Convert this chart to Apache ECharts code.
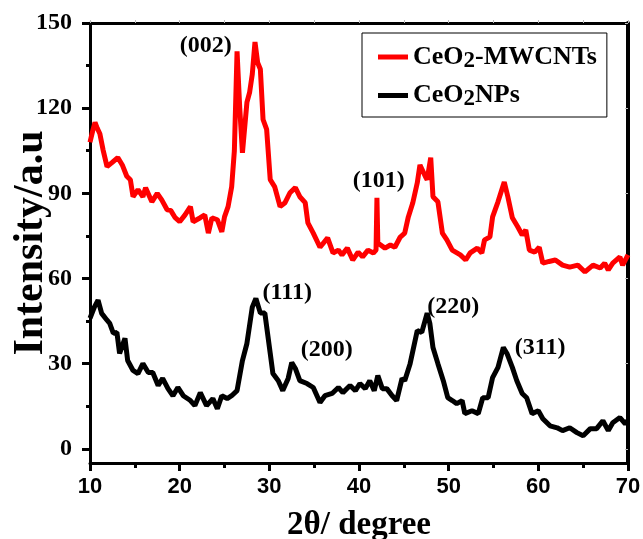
<!DOCTYPE html>
<html>
<head>
<meta charset="utf-8">
<script src="https://cdn.jsdelivr.net/npm/echarts@6/dist/echarts.min.js"></script>
<style>html,body{margin:0;padding:0;background:#fff;}#c{width:643px;height:539px;}</style>
</head>
<body>
<div id="c"></div>
<script>
var xTicks = [10, 20, 30, 40, 50, 60, 70];
var yTicks = [0, 30, 60, 90, 120, 150];
var yMinorTicks = [15, 45, 75, 105, 135];

var mwcntX = [10.0,10.3,10.56,10.8,11.1,11.45,11.9,12.45,13.1,13.6,14.1,14.5,14.8,15.35,15.9,16.2,16.9,17.5,18.0,18.6,19.0,19.5,20.0,20.6,21.2,21.5,22.3,22.8,23.2,23.6,24.2,24.7,25.0,25.4,25.8,26.1,26.4,26.7,27.0,27.5,27.8,28.1,28.4,28.7,29.0,29.3,29.7,30.1,30.6,31.2,31.75,32.3,32.9,33.4,34.0,34.3,34.9,35.65,36.5,37.1,37.7,38.1,38.7,39.3,39.9,40.4,41.0,41.6,41.9,42.0,42.1,42.9,43.5,44.0,44.6,45.1,45.5,46.0,46.5,46.8,47.4,47.6,48.0,48.25,48.8,49.3,49.8,50.4,51.3,51.9,52.4,53.2,53.7,54.0,54.6,54.9,55.5,56.2,56.6,57.1,57.7,58.2,58.6,59.0,59.6,60.1,60.5,61.2,61.9,62.7,63.5,64.4,65.2,66.1,66.9,67.4,67.8,68.3,69.1,69.4,70.0];
var mwcntY = [108,112,115,113,111,105.4,99.4,100.8,102.6,100,96,94.8,88.8,91.3,88.8,92,87,90,87.7,84.2,84,81.4,80,82.4,85.3,80,81.4,82.4,76,81.4,80.7,76.4,81.7,85.3,92.3,105,140,120,104.3,122,125.6,132,143.3,136,133.7,116,112.5,94.8,92.3,85.3,86.7,90.2,92,88.8,86.7,79.6,76,71,74.3,69,70,68.3,70.7,66.5,69.3,67.6,70,69,70,88.4,72.5,70.7,71.8,71,74.6,76,81.7,86.7,93.7,100,95.9,94.8,102.6,88.8,87,76,73.6,70,68.3,66.5,69,70.7,69,73.6,74.6,81.7,87,94,88.8,81.4,78.2,75.3,77.1,70,69.3,71,65.4,66,66.5,64.7,64,64.7,62.3,64.7,63.7,65.4,63,65.4,67.6,64.7,68.3];

var npX = [10.0,10.5,10.9,11.3,11.9,12.2,12.6,13.0,13.3,13.9,14.2,14.8,15.35,15.9,16.5,17.0,17.6,18.1,18.7,19.25,19.8,20.4,21.2,21.7,22.3,23.0,23.7,24.2,24.7,25.3,25.8,26.4,27.0,27.5,28.1,28.5,29.0,29.5,30.1,30.4,31.0,31.5,32.1,32.5,32.9,33.4,34.2,34.9,35.65,36.2,37.0,37.7,38.2,39.0,39.6,40.1,40.7,41.2,41.7,42.1,42.6,43.1,43.7,44.2,44.8,45.1,45.7,46.5,47.0,47.6,47.9,48.25,48.8,49.4,49.9,50.4,50.9,51.5,51.8,52.6,53.3,53.8,54.4,54.9,55.5,56.1,56.5,57.1,57.6,58.2,58.7,59.3,60.0,60.5,61.3,62.1,62.7,63.5,64.3,65.0,65.8,66.5,67.2,67.8,68.3,69.1,69.7,70.0];
var npY = [46,50,52.4,47.7,45.3,44.2,40.7,41,33.6,38.9,31.1,27.6,26.5,30,26.9,26.9,22.3,24.8,21.2,18.7,21.6,18.7,17,15.2,19.8,15.2,17.7,14.1,18.7,17.7,18.7,20.5,31.1,37.1,49.9,53,47.8,47.8,33.6,26.5,24,20.5,24.8,30.4,28.3,24,23,21.6,16.3,18.7,19.5,21.6,19.8,22.3,20.5,23,21.2,24,20.5,25.8,21.2,21.2,18.7,17,24.8,24,30,41.7,41,47.8,44.2,35.7,30,24,18,17,15.9,17,12.4,13.4,12.4,18,18,25.1,28.7,35.7,33.6,28.7,24,19.5,18,12.4,13.4,10.6,8.1,7.4,6.4,7.4,5.7,4.6,7.1,7.1,9.9,6.4,9.2,11,8.8,10];

var peakNames = ['(002)', '(101)', '(111)', '(200)', '(220)', '(311)'];
var peakX = [22.9, 42.2, 32.0, 36.4, 50.5, 60.2];
var peakY = [141.8, 94.4, 54.8, 35.0, 50.2, 35.7];

function zip(xs, ys) { return xs.map(function (x, i) { return [x, ys[i]]; }); }

var serif = '"Liberation Serif","Times New Roman",serif';
var sans = '"Liberation Sans",Arial,sans-serif';

var chart = echarts.init(document.getElementById('c'), null, {renderer: 'canvas'});
var option = {
  backgroundColor: '#fff',
  animation: false,
  grid: {left: 90, right: 15, top: 23, bottom: 76, containLabel: false, outerBoundsMode: 'none'},
  legend: {
    orient: 'vertical',
    left: 362, top: 33,
    padding: [11, 10, 6, 16],
    borderColor: '#000', borderWidth: 1,
    itemGap: 10,
    itemWidth: 30, itemHeight: 5,
    icon: 'rect',
    data: ['CeO2-MWCNTs', 'CeO2NPs'],
    formatter: function (n) {
      if (n === 'CeO2-MWCNTs') return 'CeO{s|2}-MWCNTs';
      return 'CeO{s|2}NPs';
    },
    textStyle: {
      fontFamily: serif, fontWeight: 'bold', fontSize: 26, color: '#000',
      rich: {s: {fontFamily: serif, fontWeight: 'bold', fontSize: 23, padding: [8, 0, 0, 0], color: '#000'}}
    }
  },
  xAxis: [{
    type: 'value', min: 10, max: 70, interval: 10, position: 'bottom',
    name: '2θ/ degree', nameLocation: 'middle', nameGap: 46, nameMoveOverlap: false,
    nameTextStyle: {fontFamily: serif, fontWeight: 'bold', fontSize: 33, color: '#000'},
    axisLine: {show: true, onZero: false, lineStyle: {color: '#000', width: 3}},
    axisTick: {show: true, inside: false, length: 8, lineStyle: {color: '#000', width: 3}},
    minorTick: {show: true, splitNumber: 2, length: 5, lineStyle: {color: '#000', width: 3}},
    axisLabel: {fontFamily: sans, fontWeight: 'bold', fontSize: 22, color: '#000', margin: 13},
    splitLine: {show: false}
  }, {
    type: 'value', min: 10, max: 70, interval: 5, position: 'top',
    axisLine: {show: true, onZero: false, lineStyle: {color: '#000', width: 3}},
    axisTick: {show: true, inside: false, length: 3, lineStyle: {color: '#bbb', width: 1}},
    axisLabel: {show: false}, splitLine: {show: false}
  }],
  yAxis: [{
    type: 'value', min: -5, max: 150, position: 'left',
    name: 'Intensity/a.u', nameLocation: 'middle', nameGap: 38, nameMoveOverlap: false,
    nameTextStyle: {fontFamily: serif, fontWeight: 'bold', fontSize: 42, color: '#000'},
    axisLine: {show: true, onZero: false, lineStyle: {color: '#000', width: 3}},
    axisTick: {show: true, inside: false, length: 8, customValues: yTicks, lineStyle: {color: '#000', width: 3}},
    axisLabel: {customValues: yTicks, fontFamily: serif, fontWeight: 'bold', fontSize: 24, color: '#000', margin: 18},
    splitLine: {show: false}
  }, {
    type: 'value', min: -5, max: 150, position: 'left',
    axisLine: {show: false},
    axisTick: {show: true, inside: false, length: 4, customValues: yMinorTicks, lineStyle: {color: '#000', width: 3}},
    axisLabel: {show: false}, splitLine: {show: false}
  }, {
    type: 'value', min: -5, max: 150, position: 'right',
    axisLine: {show: true, onZero: false, lineStyle: {color: '#000', width: 4}},
    axisTick: {show: true, inside: true, length: 3, customValues: yTicks, lineStyle: {color: '#bbb', width: 1}},
    axisLabel: {show: false}, splitLine: {show: false}
  }],
  series: [{
    name: 'CeO2-MWCNTs', type: 'line', data: zip(mwcntX, mwcntY),
    showSymbol: false, symbol: 'none', color: '#ff0000',
    lineStyle: {color: '#ff0000', width: 5}, z: 3
  }, {
    name: 'CeO2NPs', type: 'line', data: zip(npX, npY),
    showSymbol: false, symbol: 'none', color: '#000',
    lineStyle: {color: '#000', width: 5}, z: 3
  }, {
    name: 'peaks', type: 'scatter', symbolSize: 1, silent: true,
    itemStyle: {opacity: 0},
    data: peakNames.map(function (n, i) { return {value: [peakX[i], peakY[i]], name: n}; }),
    label: {show: true, position: 'inside', formatter: function (p) { return p.name; },
      fontFamily: serif, fontWeight: 'bold', fontSize: 24, color: '#000', opacity: 1,
      textBorderWidth: 0},
    z: 5
  }]
};
chart.setOption(option);
</script>
</body>
</html>
